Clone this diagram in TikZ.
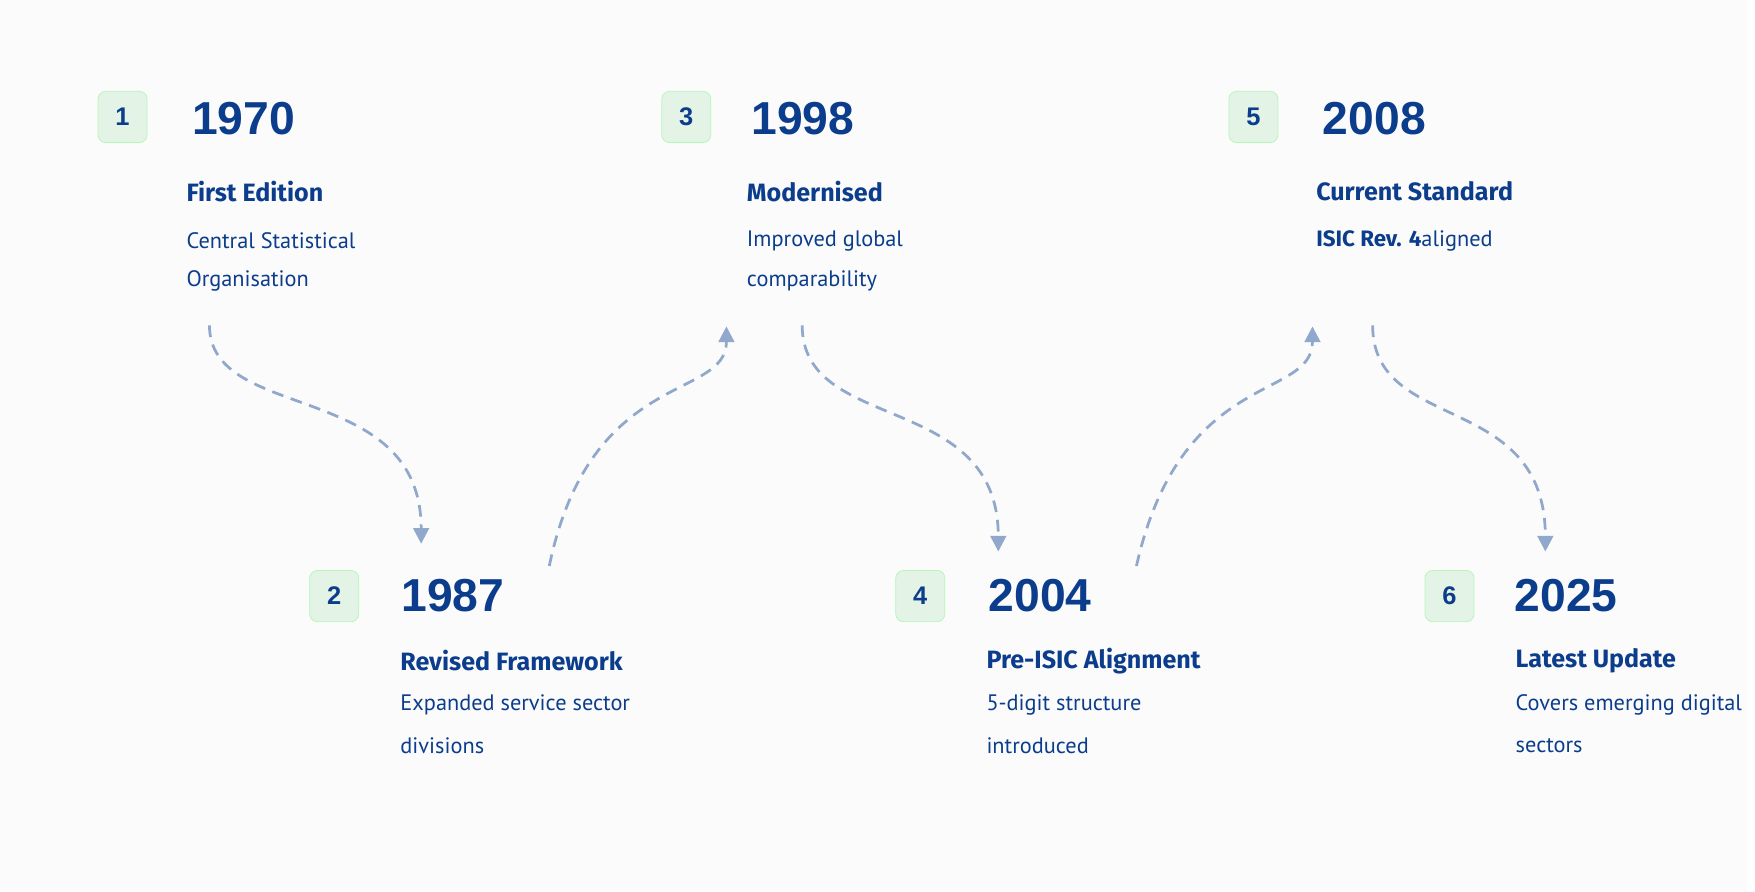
\documentclass[tikz,border=0pt]{standalone}
\usepackage{fontspec}
\setmainfont{PT Sans}
\newfontfamily\yearfont{Liberation Sans}
\newfontfamily\headfont{Fira Sans}
\usetikzlibrary{arrows.meta,positioning}
\definecolor{navy}{HTML}{0B3D8C}
\definecolor{flow}{HTML}{8FA8CC}
\definecolor{badgefill}{HTML}{E3F4E6}

\begin{document}
\begin{tikzpicture}[x=0.01cm,y=-0.01cm,
  badge/.style={rectangle, rounded corners=2pt, fill=badgefill, draw=badgefill!80!green,
    line width=0.2pt, minimum width=0.44cm, minimum height=0.46cm,
    font=\yearfont\fontsize{6.5}{7}\selectfont\bfseries, text=navy},
  year/.style={anchor=west, font=\yearfont\fontsize{11.8}{13}\selectfont\bfseries, text=navy},
  title/.style={anchor=west, font=\headfont\fontsize{6.4}{7}\selectfont\bfseries, text=navy},
  desc/.style={anchor=west, font=\fontsize{5.7}{7}\selectfont, text=navy},
  arrow/.style={-{Triangle[length=4pt,width=4pt]}, flow, dashed, line width=0.7pt,
    dash pattern=on 3pt off 2pt}
]
\fill[white!97!gray] (0,0) rectangle (1568,800);

% Milestones
\node[badge] (b1) at (110,105) {1};
\node[year] (y1) at (160,106) {1970};
\node[title] (t1) at (155,172) {First Edition};
\node[desc] (d1a) at (155,216) {Central Statistical};
\node[desc] (d1b) at (155,252) {Organisation};

\node[badge] (b2) at (300,535) {2};
\node[year] (y2) at (348,535) {1987};
\node[title] (t2) at (347,593) {Revised Framework};
\node[desc] (d2a) at (347,633) {Expanded service sector};
\node[desc] (d2b) at (347,669) {divisions};

\node[badge] (b3) at (616,105) {3};
\node[year] (y3) at (662,106) {1998};
\node[title] (t3) at (658,172) {Modernised};
\node[desc] (d3a) at (658,216) {Improved global};
\node[desc] (d3b) at (658,252) {comparability};

\node[badge] (b4) at (826,535) {4};
\node[year] (y4) at (875,535) {2004};
\node[title] (t4) at (873,593) {Pre-ISIC Alignment};
\node[desc] (d4a) at (873,633) {5-digit structure};
\node[desc] (d4b) at (873,669) {introduced};

\node[badge] (b5) at (1125,105) {5};
\node[year] (y5) at (1175,106) {2008};
\node[title] (t5) at (1169,172) {Current Standard};
\node[desc] (d5a) at (1169,216) {{\headfont\bfseries ISIC Rev. 4}aligned};

\node[badge] (b6) at (1301,535) {6};
\node[year] (y6) at (1347,535) {2025};
\node[title] (t6) at (1348,593) {Latest Update};
\node[desc] (d6a) at (1348,633) {Covers emerging digital};
\node[desc] (d6b) at (1348,669) {sectors};

% Flow ends
\coordinate (s1) at (188,292); \coordinate (e1) at (378,488);
\coordinate (s2) at (493,508); \coordinate (e2) at (652,293);
\coordinate (s3) at (720,292); \coordinate (e3) at (896,495);
\coordinate (s4) at (1020,508); \coordinate (e4) at (1178,293);
\coordinate (s5) at (1232,292); \coordinate (e5) at (1387,495);

% Connectors
\draw[arrow] (s1) .. controls (188,380) and (378,340) .. (e1);
\draw[arrow] (s2) .. controls (530,330) and (652,360) .. (e2);
\draw[arrow] (s3) .. controls (720,390) and (896,350) .. (e3);
\draw[arrow] (s4) .. controls (1060,330) and (1178,360) .. (e4);
\draw[arrow] (s5) .. controls (1232,390) and (1387,350) .. (e5);
\end{tikzpicture}
\end{document}
